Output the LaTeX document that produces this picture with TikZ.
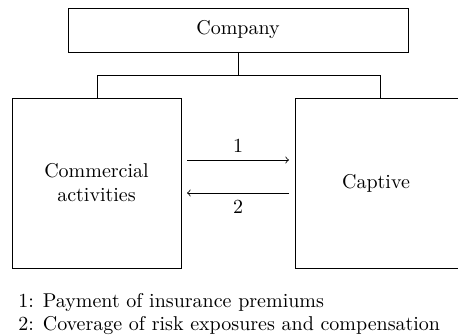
\documentclass[tikz,border=0pt]{standalone}
\begin{document}
\begin{tikzpicture}[x=0.5pt,y=-0.5pt,
  box/.style={draw,line width=0.4pt},
  link/.style={draw,line width=0.4pt},
  flow/.style={->,line width=0.4pt},
  note/.style={anchor=base west,inner sep=0pt}]
\useasboundingbox (0,0) rectangle (458,335);
% organisation boxes
\draw[box] (68,8) rectangle (408,52);
\node (company) at (238,30) {Company};
\coordinate (ctop) at (238,52);
\draw[box] (12,98) rectangle (181,268);
\node[align=center] (comm) at (96.5,183) {Commercial\\activities};
\draw[box] (295,98) rectangle (459,268);
\node (capt) at (376,183) {Captive};
% ownership tree
\coordinate (mid) at (238,75);
\coordinate (lj) at (97,75);
\coordinate (rj) at (380,75);
\coordinate (lb) at (97,98);
\coordinate (rb) at (380,98);
\draw[link] (ctop) -- (mid);
\draw[link] (lb) -- (lj) -- (rj) -- (rb);
% flows between the entities
\coordinate (a1) at (187,160);
\coordinate (b1) at (289,160);
\coordinate (a2) at (289,193);
\coordinate (b2) at (187,193);
\draw[flow] (a1) -- node[above] (l1) {1} (b1);
\draw[flow] (a2) -- node[below] (l2) {2} (b2);
% key
\node[note] (k1) at (18,307) {1: Payment of insurance premiums};
\node[note] (k2) at (18,330) {2: Coverage of risk exposures and compensation};
\end{tikzpicture}
\end{document}
